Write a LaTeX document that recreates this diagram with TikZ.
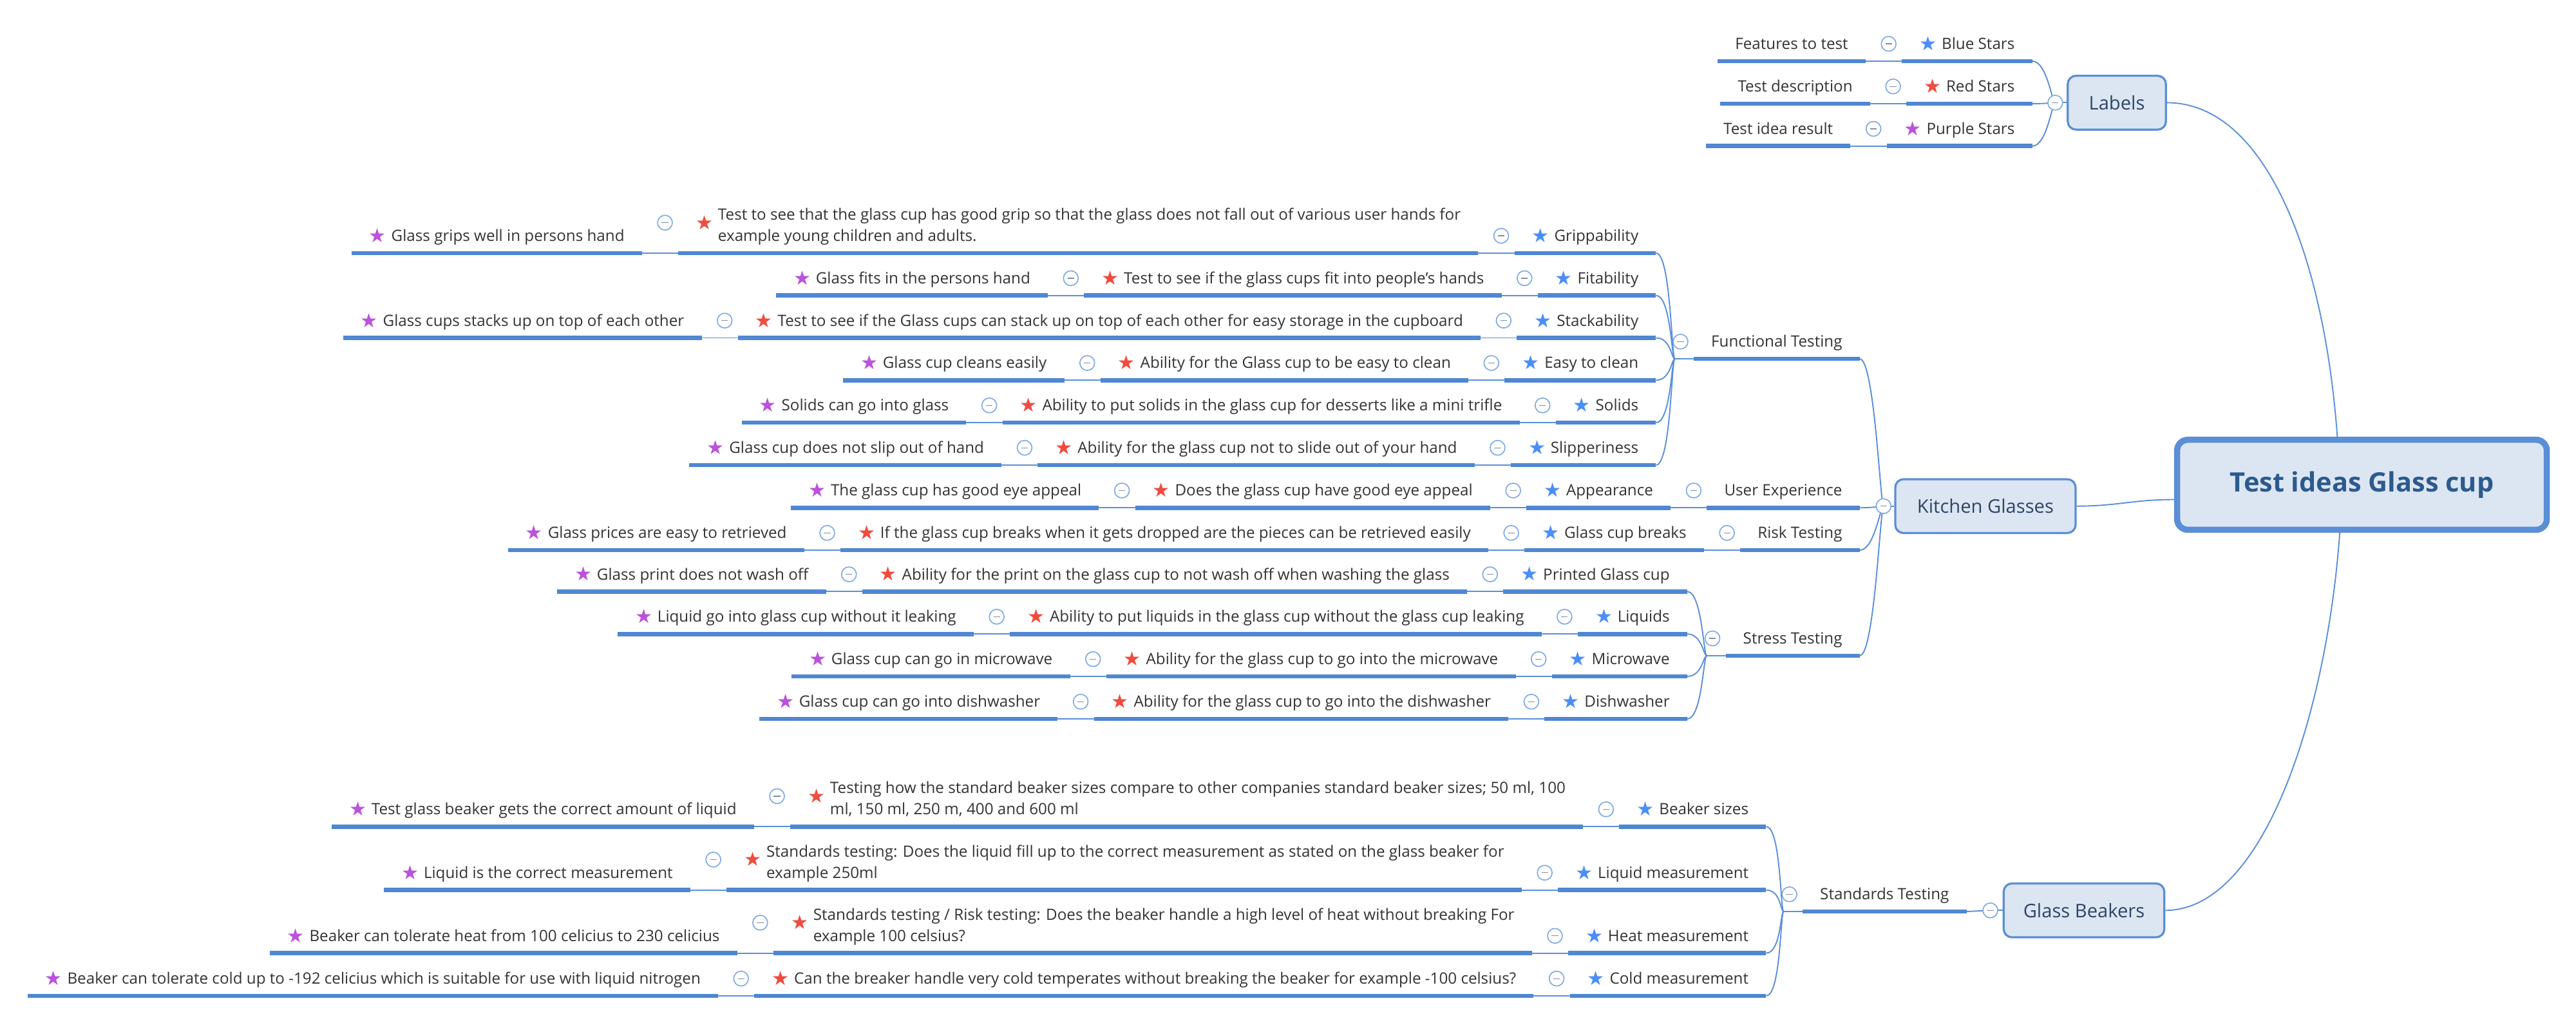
\documentclass[tikz,border=0pt]{standalone}
\usepackage{fontspec}
\setmainfont{Open Sans}
\newfontfamily\starfont{DejaVu Sans}
\usepackage{tikz}
\pgfdeclarelayer{nodelayer}
\pgfdeclarelayer{edgelayer}
\pgfsetlayers{edgelayer,nodelayer,main}
\definecolor{linkblue}{HTML}{5B8FD9}
\definecolor{barblue}{HTML}{4F87D2}
\definecolor{boxfill}{HTML}{DCE6F2}
\definecolor{boxline}{HTML}{5A8ED6}
\definecolor{boxtext}{HTML}{2E4566}
\definecolor{roottext}{HTML}{2C5A8F}
\definecolor{topictext}{HTML}{333333}
\definecolor{foldline}{HTML}{7BA7E4}
\definecolor{foldminus}{HTML}{7F8FA6}
\definecolor{starblue}{HTML}{4B8EF7}
\definecolor{starred}{HTML}{F04B3F}
\definecolor{starpurple}{HTML}{BB52DB}
\newcommand{\bstar}{\raisebox{-0.3mm}{\starfont\fontsize{13.5pt}{13.5pt}\selectfont\color{starblue}★}\hspace{1.2mm}}
\newcommand{\rstar}{\raisebox{-0.3mm}{\starfont\fontsize{13.5pt}{13.5pt}\selectfont\color{starred}★}\hspace{1.2mm}}
\newcommand{\pstar}{\raisebox{-0.3mm}{\starfont\fontsize{13.5pt}{13.5pt}\selectfont\color{starpurple}★}\hspace{1.2mm}}
\tikzstyle{bar}=[draw=barblue, line width=1.05mm]
\tikzstyle{link}=[draw=linkblue, line width=0.3mm]
\tikzstyle{topic}=[anchor=south east, inner xsep=4.2mm, inner ysep=2.8mm, text depth=0pt, text=topictext, font=\fontsize{10.8pt}{14.8pt}\selectfont, append after command={(\tikzlastnode.south west) edge[bar] (\tikzlastnode.south east)}]
\tikzstyle{box}=[rectangle, rounded corners=2mm, draw=boxline, fill=boxfill, line width=0.5mm, minimum height=13.1mm, text=boxtext, font=\fontsize{13pt}{15pt}\selectfont]
\tikzstyle{rootbox}=[rectangle, rounded corners=2.6mm, draw=boxline, fill=boxfill, line width=1.5mm, minimum width=90mm, minimum height=21.9mm, text=roottext, font=\fontsize{18.5pt}{22pt}\selectfont\bfseries]
\tikzstyle{fold}=[circle, draw=foldline, line width=0.25mm, fill=white, minimum size=3.6mm, inner sep=0pt, path picture={\draw[foldminus, line width=0.2mm] ([xshift=-0.8mm]path picture bounding box.center) -- ([xshift=0.8mm]path picture bounding box.center);}]

\begin{document}
\begin{tikzpicture}[x=0.4mm, y=-0.4mm]
	\useasboundingbox (0,0) rectangle (1568,621.3);
	\begin{pgfonlayer}{nodelayer}
		\node [style=rootbox] (0) at (1437.7, 295) {Test ideas Glass cup};
		\node [style=box, minimum width=23.9mm] (1) at (1288.5, 62.5) {Labels};
		\node [style=box, minimum width=43.9mm] (2) at (1208.5, 308) {Kitchen Glasses};
		\node [style=box, minimum width=39.1mm] (3) at (1268.5, 554) {Glass Beakers};
		\node [style=topic] (4) at (1237, 37.2) {\bstar Blue Stars};
		\node [style=topic] (5) at ([xshift=-8.8mm]4.south west) {Features to test};
		\node [style=topic] (6) at (1237, 63.1) {\rstar Red Stars};
		\node [style=topic] (7) at ([xshift=-8.8mm]6.south west) {Test description};
		\node [style=topic] (8) at (1237, 88.9) {\pstar Purple Stars};
		\node [style=topic] (9) at ([xshift=-8.8mm]8.south west) {Test idea result};
		\node [style=topic] (10) at (1132, 218.4) {Functional Testing};
		\node [style=topic] (11) at (1008, 154) {\bstar Grippability};
		\node [style=topic] (12) at ([xshift=-8.8mm]11.south west) {\raisebox{3.2mm}{\rstar}\begin{tabular}[b]{@{}l@{}}Test to see that the glass cup has good grip so that the glass does not fall out of various user hands for\\example young children and adults.\end{tabular}};
		\node [style=topic] (13) at ([xshift=-8.8mm]12.south west) {\pstar Glass grips well in persons hand};
		\node [style=topic] (14) at (1008, 179.8) {\bstar Fitability};
		\node [style=topic] (15) at ([xshift=-8.8mm]14.south west) {\rstar Test to see if the glass cups fit into people's hands};
		\node [style=topic] (16) at ([xshift=-8.8mm]15.south west) {\pstar Glass fits in the persons hand};
		\node [style=topic] (17) at (1008, 205.6) {\bstar Stackability};
		\node [style=topic] (18) at ([xshift=-8.8mm]17.south west) {\rstar Test to see if the Glass cups can stack up on top of each other for easy storage in the cupboard};
		\node [style=topic] (19) at ([xshift=-8.8mm]18.south west) {\pstar Glass cups stacks up on top of each other};
		\node [style=topic] (20) at (1008, 231.4) {\bstar Easy to clean};
		\node [style=topic] (21) at ([xshift=-8.8mm]20.south west) {\rstar Ability for the Glass cup to be easy to clean};
		\node [style=topic] (22) at ([xshift=-8.8mm]21.south west) {\pstar Glass cup cleans easily};
		\node [style=topic] (23) at (1008, 257.2) {\bstar Solids};
		\node [style=topic] (24) at ([xshift=-8.8mm]23.south west) {\rstar Ability to put solids in the glass cup for desserts like a mini trifle};
		\node [style=topic] (25) at ([xshift=-8.8mm]24.south west) {\pstar Solids can go into glass};
		\node [style=topic] (26) at (1008, 283) {\bstar Slipperiness};
		\node [style=topic] (27) at ([xshift=-8.8mm]26.south west) {\rstar Ability for the glass cup not to slide out of your hand};
		\node [style=topic] (28) at ([xshift=-8.8mm]27.south west) {\pstar Glass cup does not slip out of hand};
		\node [style=topic] (29) at (1132, 309) {User Experience};
		\node [style=topic] (30) at ([xshift=-8.8mm]29.south west) {\bstar Appearance};
		\node [style=topic] (31) at ([xshift=-8.8mm]30.south west) {\rstar Does the glass cup have good eye appeal};
		\node [style=topic] (32) at ([xshift=-8.8mm]31.south west) {\pstar The glass cup has good eye appeal};
		\node [style=topic] (33) at (1132, 334.8) {Risk Testing};
		\node [style=topic] (34) at ([xshift=-8.8mm]33.south west) {\bstar Glass cup breaks};
		\node [style=topic] (35) at ([xshift=-8.8mm]34.south west) {\rstar If the glass cup breaks when it gets dropped are the pieces can be retrieved easily};
		\node [style=topic] (36) at ([xshift=-8.8mm]35.south west) {\pstar Glass prices are easy to retrieved};
		\node [style=topic] (37) at (1132, 399) {Stress Testing};
		\node [style=topic] (38) at (1027, 360) {\bstar Printed Glass cup};
		\node [style=topic] (39) at ([xshift=-8.8mm]38.south west) {\rstar Ability for the print on the glass cup to not wash off when washing the glass};
		\node [style=topic] (40) at ([xshift=-8.8mm]39.south west) {\pstar Glass print does not wash off};
		\node [style=topic] (41) at (1027, 385.8) {\bstar Liquids};
		\node [style=topic] (42) at ([xshift=-8.8mm]41.south west) {\rstar Ability to put liquids in the glass cup without the glass cup leaking};
		\node [style=topic] (43) at ([xshift=-8.8mm]42.south west) {\pstar Liquid go into glass cup without it leaking};
		\node [style=topic] (44) at (1027, 411.6) {\bstar Microwave};
		\node [style=topic] (45) at ([xshift=-8.8mm]44.south west) {\rstar Ability for the glass cup to go into the microwave};
		\node [style=topic] (46) at ([xshift=-8.8mm]45.south west) {\pstar Glass cup can go in microwave};
		\node [style=topic] (47) at (1027, 437.5) {\bstar Dishwasher};
		\node [style=topic] (48) at ([xshift=-8.8mm]47.south west) {\rstar Ability for the glass cup to go into the dishwasher};
		\node [style=topic] (49) at ([xshift=-8.8mm]48.south west) {\pstar Glass cup can go into dishwasher};
		\node [style=topic] (50) at (1197, 554.7) {Standards Testing};
		\node [style=topic] (51) at (1075, 503) {\bstar Beaker sizes};
		\node [style=topic] (52) at ([xshift=-8.8mm]51.south west) {\raisebox{3.2mm}{\rstar}\begin{tabular}[b]{@{}l@{}}Testing how the standard beaker sizes compare to other companies standard beaker sizes; 50 ml, 100\\ml, 150 ml, 250 m, 400 and 600 ml\end{tabular}};
		\node [style=topic] (53) at ([xshift=-8.8mm]52.south west) {\pstar Test glass beaker gets the correct amount of liquid};
		\node [style=topic] (54) at (1075, 541.6) {\bstar Liquid measurement};
		\node [style=topic] (55) at ([xshift=-8.8mm]54.south west) {\raisebox{3.2mm}{\rstar}\begin{tabular}[b]{@{}l@{}}Standards testing: Does the liquid fill up to the correct measurement as stated on the glass beaker for\\example 250ml\end{tabular}};
		\node [style=topic] (56) at ([xshift=-8.8mm]55.south west) {\pstar Liquid is the correct measurement};
		\node [style=topic] (57) at (1075, 580) {\bstar Heat measurement};
		\node [style=topic] (58) at ([xshift=-8.8mm]57.south west) {\raisebox{3.2mm}{\rstar}\begin{tabular}[b]{@{}l@{}}Standards testing / Risk testing: Does the beaker handle a high level of heat without breaking For\\example 100 celsius?\end{tabular}};
		\node [style=topic] (59) at ([xshift=-8.8mm]58.south west) {\pstar Beaker can tolerate heat from 100 celicius to 230 celicius};
		\node [style=topic] (60) at (1075, 606) {\bstar Cold measurement};
		\node [style=topic] (61) at ([xshift=-8.8mm]60.south west) {\rstar Can the breaker handle very cold temperates without breaking the beaker for example -100 celsius?};
		\node [style=topic] (62) at ([xshift=-8.8mm]61.south west) {\pstar Beaker can tolerate cold up to -192 celicius which is suitable for use with liquid nitrogen};
		\coordinate (210) at ([xshift=-4.6mm]10.south west);
		\coordinate (237) at ([xshift=-4.6mm]37.south west);
		\coordinate (250) at ([xshift=-4.6mm]50.south west);
		\node [style=fold] (101) at ([xshift=-2.8mm]1.west) {};
		\node [style=fold] (102) at ([xshift=-2.6mm]2.west) {};
		\node [style=fold] (103) at ([xshift=-3mm]3.west) {};
		\node [style=fold] (104) at ([xshift=-3.2mm, yshift=4.2mm]4.south west) {};
		\node [style=fold] (106) at ([xshift=-3.2mm, yshift=4.2mm]6.south west) {};
		\node [style=fold] (108) at ([xshift=-3.2mm, yshift=4.2mm]8.south west) {};
		\node [style=fold] (110) at ([xshift=-3.2mm, yshift=4.2mm]10.south west) {};
		\node [style=fold] (111) at ([xshift=-3.2mm, yshift=4.2mm]11.south west) {};
		\node [style=fold] (112) at ([xshift=-3.2mm, yshift=7.4mm]12.south west) {};
		\node [style=fold] (114) at ([xshift=-3.2mm, yshift=4.2mm]14.south west) {};
		\node [style=fold] (115) at ([xshift=-3.2mm, yshift=4.2mm]15.south west) {};
		\node [style=fold] (117) at ([xshift=-3.2mm, yshift=4.2mm]17.south west) {};
		\node [style=fold] (118) at ([xshift=-3.2mm, yshift=4.2mm]18.south west) {};
		\node [style=fold] (120) at ([xshift=-3.2mm, yshift=4.2mm]20.south west) {};
		\node [style=fold] (121) at ([xshift=-3.2mm, yshift=4.2mm]21.south west) {};
		\node [style=fold] (123) at ([xshift=-3.2mm, yshift=4.2mm]23.south west) {};
		\node [style=fold] (124) at ([xshift=-3.2mm, yshift=4.2mm]24.south west) {};
		\node [style=fold] (126) at ([xshift=-3.2mm, yshift=4.2mm]26.south west) {};
		\node [style=fold] (127) at ([xshift=-3.2mm, yshift=4.2mm]27.south west) {};
		\node [style=fold] (129) at ([xshift=-3.2mm, yshift=4.2mm]29.south west) {};
		\node [style=fold] (130) at ([xshift=-3.2mm, yshift=4.2mm]30.south west) {};
		\node [style=fold] (131) at ([xshift=-3.2mm, yshift=4.2mm]31.south west) {};
		\node [style=fold] (133) at ([xshift=-3.2mm, yshift=4.2mm]33.south west) {};
		\node [style=fold] (134) at ([xshift=-3.2mm, yshift=4.2mm]34.south west) {};
		\node [style=fold] (135) at ([xshift=-3.2mm, yshift=4.2mm]35.south west) {};
		\node [style=fold] (137) at ([xshift=-3.2mm, yshift=4.2mm]37.south west) {};
		\node [style=fold] (138) at ([xshift=-3.2mm, yshift=4.2mm]38.south west) {};
		\node [style=fold] (139) at ([xshift=-3.2mm, yshift=4.2mm]39.south west) {};
		\node [style=fold] (141) at ([xshift=-3.2mm, yshift=4.2mm]41.south west) {};
		\node [style=fold] (142) at ([xshift=-3.2mm, yshift=4.2mm]42.south west) {};
		\node [style=fold] (144) at ([xshift=-3.2mm, yshift=4.2mm]44.south west) {};
		\node [style=fold] (145) at ([xshift=-3.2mm, yshift=4.2mm]45.south west) {};
		\node [style=fold] (147) at ([xshift=-3.2mm, yshift=4.2mm]47.south west) {};
		\node [style=fold] (148) at ([xshift=-3.2mm, yshift=4.2mm]48.south west) {};
		\node [style=fold] (150) at ([xshift=-3.2mm, yshift=4.2mm]50.south west) {};
		\node [style=fold] (151) at ([xshift=-3.2mm, yshift=4.2mm]51.south west) {};
		\node [style=fold] (152) at ([xshift=-3.2mm, yshift=7.4mm]52.south west) {};
		\node [style=fold] (154) at ([xshift=-3.2mm, yshift=4.2mm]54.south west) {};
		\node [style=fold] (155) at ([xshift=-3.2mm, yshift=7.4mm]55.south west) {};
		\node [style=fold] (157) at ([xshift=-3.2mm, yshift=4.2mm]57.south west) {};
		\node [style=fold] (158) at ([xshift=-3.2mm, yshift=7.4mm]58.south west) {};
		\node [style=fold] (160) at ([xshift=-3.2mm, yshift=4.2mm]60.south west) {};
		\node [style=fold] (161) at ([xshift=-3.2mm, yshift=4.2mm]61.south west) {};
	\end{pgfonlayer}
	\begin{pgfonlayer}{edgelayer}
		\draw [style=link] (1.east) .. controls +(60,0) and +(-8,-110) .. ([xshift=-6mm]0.north);
		\draw [style=link] (2.east) .. controls +(25,0) and +(-25,0) .. ([yshift=-3.6mm]0.west);
		\draw [style=link] (3.east) .. controls +(60,0) and +(-8,110) .. ([xshift=-5.4mm]0.south);
		\draw [style=link] (101.center) to (1.west);
		\draw [style=link] (102.center) to (2.west);
		\draw [style=link] (103.center) to (3.west);
		\draw [style=link] (4.south east) .. controls +(9,0) and +(-2,0) .. (101.center);
		\draw [style=link] (6.south east) .. controls +(9,0) and +(-2,0) .. (101.center);
		\draw [style=link] (8.south east) .. controls +(9,0) and +(-2,0) .. (101.center);
		\draw [style=link] (5.south east) to (4.south west);
		\draw [style=link] (7.south east) to (6.south west);
		\draw [style=link] (9.south east) to (8.south west);
		\draw [style=link] (10.south east) .. controls +(9,0) and +(-2,0) .. (102.center);
		\draw [style=link] (29.south east) .. controls +(9,0) and +(-2,0) .. (102.center);
		\draw [style=link] (33.south east) .. controls +(9,0) and +(-2,0) .. (102.center);
		\draw [style=link] (37.south east) .. controls +(9,0) and +(-2,0) .. (102.center);
		\draw [style=link] (210) to (10.south west);
		\draw [style=link] (11.south east) .. controls +(9,0) and +(-2,0) .. (210);
		\draw [style=link] (14.south east) .. controls +(9,0) and +(-2,0) .. (210);
		\draw [style=link] (17.south east) .. controls +(9,0) and +(-2,0) .. (210);
		\draw [style=link] (20.south east) .. controls +(9,0) and +(-2,0) .. (210);
		\draw [style=link] (23.south east) .. controls +(9,0) and +(-2,0) .. (210);
		\draw [style=link] (26.south east) .. controls +(9,0) and +(-2,0) .. (210);
		\draw [style=link] (12.south east) to (11.south west);
		\draw [style=link] (13.south east) to (12.south west);
		\draw [style=link] (15.south east) to (14.south west);
		\draw [style=link] (16.south east) to (15.south west);
		\draw [style=link] (18.south east) to (17.south west);
		\draw [style=link] (19.south east) to (18.south west);
		\draw [style=link] (21.south east) to (20.south west);
		\draw [style=link] (22.south east) to (21.south west);
		\draw [style=link] (24.south east) to (23.south west);
		\draw [style=link] (25.south east) to (24.south west);
		\draw [style=link] (27.south east) to (26.south west);
		\draw [style=link] (28.south east) to (27.south west);
		\draw [style=link] (30.south east) to (29.south west);
		\draw [style=link] (31.south east) to (30.south west);
		\draw [style=link] (32.south east) to (31.south west);
		\draw [style=link] (34.south east) to (33.south west);
		\draw [style=link] (35.south east) to (34.south west);
		\draw [style=link] (36.south east) to (35.south west);
		\draw [style=link] (237) to (37.south west);
		\draw [style=link] (38.south east) .. controls +(9,0) and +(-2,0) .. (237);
		\draw [style=link] (41.south east) .. controls +(9,0) and +(-2,0) .. (237);
		\draw [style=link] (44.south east) .. controls +(9,0) and +(-2,0) .. (237);
		\draw [style=link] (47.south east) .. controls +(9,0) and +(-2,0) .. (237);
		\draw [style=link] (39.south east) to (38.south west);
		\draw [style=link] (40.south east) to (39.south west);
		\draw [style=link] (42.south east) to (41.south west);
		\draw [style=link] (43.south east) to (42.south west);
		\draw [style=link] (45.south east) to (44.south west);
		\draw [style=link] (46.south east) to (45.south west);
		\draw [style=link] (48.south east) to (47.south west);
		\draw [style=link] (49.south east) to (48.south west);
		\draw [style=link] (50.south east) to (103.center);
		\draw [style=link] (250) to (50.south west);
		\draw [style=link] (51.south east) .. controls +(9,0) and +(-2,0) .. (250);
		\draw [style=link] (54.south east) .. controls +(9,0) and +(-2,0) .. (250);
		\draw [style=link] (57.south east) .. controls +(9,0) and +(-2,0) .. (250);
		\draw [style=link] (60.south east) .. controls +(9,0) and +(-2,0) .. (250);
		\draw [style=link] (52.south east) to (51.south west);
		\draw [style=link] (53.south east) to (52.south west);
		\draw [style=link] (55.south east) to (54.south west);
		\draw [style=link] (56.south east) to (55.south west);
		\draw [style=link] (58.south east) to (57.south west);
		\draw [style=link] (59.south east) to (58.south west);
		\draw [style=link] (61.south east) to (60.south west);
		\draw [style=link] (62.south east) to (61.south west);
	\end{pgfonlayer}
\end{tikzpicture}
\end{document}
